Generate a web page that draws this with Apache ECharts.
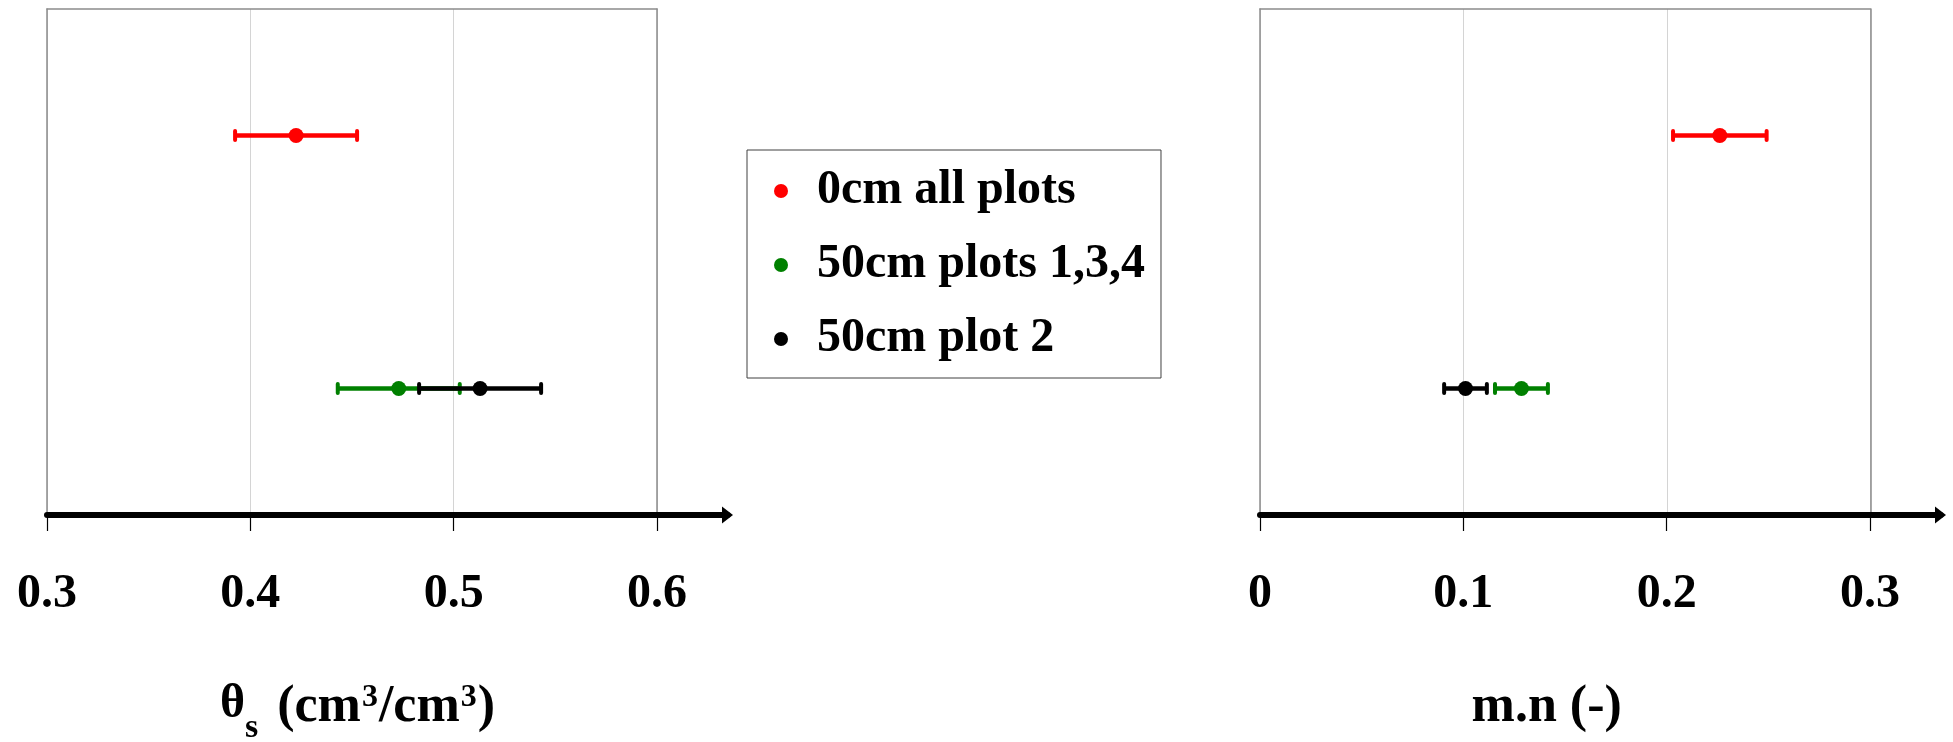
<!DOCTYPE html>
<html>
<head>
<meta charset="utf-8">
<script src="https://cdn.jsdelivr.net/npm/echarts@6/dist/echarts.min.js"></script>
<style>
html,body{margin:0;padding:0;background:#fff;}
#chart{width:1953px;height:742px;}
</style>
</head>
<body>
<div id="chart"></div>
<script>
// ---- data ----
const seriesNames = ['0cm all plots', '50cm plots 1,3,4', '50cm plot 2'];
const seriesColors = ['#ff0000', '#008000', '#000000'];
const rowPos = [3, 1, 1];                 // vertical row of each group (0..4 scale)
const thetaCenter = [0.4225, 0.473, 0.513];
const thetaErr = [0.030, 0.030, 0.030];
const mnCenter = [0.226, 0.1285, 0.101];
const mnErr = [0.023, 0.013, 0.0105];
const thetaTicks = [0.3, 0.4, 0.5, 0.6];
const mnTicks = [0, 0.1, 0.2, 0.3];

const FONT = '"Liberation Serif","Times New Roman",serif';

const chart = echarts.init(document.getElementById('chart'));

function errBarSeries(name, center, err, idx, xi, yi) {
  return {
    type: 'custom',
    name: name + ' error',
    xAxisIndex: xi, yAxisIndex: yi,
    z: 2,
    data: [[center[idx] - err[idx], center[idx] + err[idx], rowPos[idx]]],
    renderItem: function (params, api) {
      const lo = api.coord([api.value(0), api.value(2)]);
      const hi = api.coord([api.value(1), api.value(2)]);
      const c = seriesColors[idx];
      const h = 4.5;
      return {
        type: 'group',
        children: [
          {type: 'line', shape: {x1: lo[0], y1: lo[1], x2: hi[0], y2: hi[1]}, style: {stroke: c, lineWidth: 4.5}},
          {type: 'line', shape: {x1: lo[0], y1: lo[1] - h, x2: lo[0], y2: lo[1] + h}, style: {stroke: c, lineWidth: 4, lineCap: 'round'}},
          {type: 'line', shape: {x1: hi[0], y1: hi[1] - h, x2: hi[0], y2: hi[1] + h}, style: {stroke: c, lineWidth: 4, lineCap: 'round'}}
        ]
      };
    }
  };
}

function pointSeries(name, center, idx, xi, yi) {
  return {
    type: 'scatter',
    name: name,
    xAxisIndex: xi, yAxisIndex: yi,
    z: 5,
    symbol: 'circle',
    symbolSize: 15,
    itemStyle: {color: seriesColors[idx], opacity: 1},
    data: [[center[idx], rowPos[idx]]]
  };
}

const series = [];
[0, 1, 2].forEach(function (i) {
  series.push(errBarSeries(seriesNames[i], thetaCenter, thetaErr, i, 0, 0));
  series.push(errBarSeries(seriesNames[i], mnCenter, mnErr, i, 3, 3));
});
[0, 1, 2].forEach(function (i) {
  series.push(pointSeries(seriesNames[i], thetaCenter, i, 0, 0));
  series.push(pointSeries(seriesNames[i], mnCenter, i, 3, 3));
});

const borderColor = '#8c8c8c';
const gridColor = '#d4d4d4';

const titleRich = {
  t: {fontFamily: FONT, fontWeight: 'bold', fontSize: 52, lineHeight: 74, color: '#000'},
  q: {fontFamily: FONT, fontWeight: 'bold', fontSize: 48, lineHeight: 48, padding: [0, 0, 6, 0], color: '#000'},
  s: {fontFamily: FONT, fontWeight: 'bold', fontSize: 34, lineHeight: 34, padding: [40, 6, 0, 0], color: '#000'},
  p: {fontFamily: FONT, fontWeight: 'bold', fontSize: 32, lineHeight: 32, padding: [0, 1, 20, 1], color: '#000'}
};

function boxBottomAxis(grid, min, max, name, padding) {
  return {
    type: 'value', gridIndex: grid, position: 'bottom', min: min, max: max, interval: 0.1,
    axisLine: {show: false, onZero: false}, axisTick: {show: false}, axisLabel: {show: false},
    splitLine: {show: true, lineStyle: {color: gridColor, width: 1}},
    name: name, nameLocation: 'middle', nameGap: 156,
    nameTextStyle: {
      fontFamily: FONT, fontWeight: 'bold', fontSize: 52, color: '#000',
      padding: padding, rich: titleRich
    }
  };
}
function boxTopAxis(grid, min, max) {
  return {
    type: 'value', gridIndex: grid, position: 'top', min: min, max: max,
    axisLine: {show: true, onZero: false, lineStyle: {color: borderColor, width: 1.5}},
    axisTick: {show: false}, axisLabel: {show: false}, splitLine: {show: false}
  };
}
function arrowAxis(grid, min, max, ticks) {
  return {
    type: 'value', gridIndex: grid, position: 'bottom', min: min, max: max,
    axisLine: {show: true, onZero: false, symbol: ['none', 'triangle'], symbolSize: [17, 11],
      lineStyle: {color: '#000', width: 6}},
    axisTick: {show: true, customValues: ticks, length: 16, lineStyle: {color: '#000', width: 1.2}},
    axisLabel: {show: true, customValues: ticks, margin: 56, fontFamily: FONT, fontWeight: 'bold',
      fontSize: 48, color: '#000'},
    splitLine: {show: false}
  };
}
function borderY(grid, pos) {
  return {
    type: 'value', gridIndex: grid, position: pos, min: 0, max: 4,
    axisLine: {show: true, onZero: false, lineStyle: {color: borderColor, width: 1.5}},
    axisTick: {show: false}, axisLabel: {show: false}, splitLine: {show: false}
  };
}
function hiddenY(grid) {
  return {type: 'value', gridIndex: grid, min: 0, max: 4, show: false};
}

const option = {
  animation: false,
  backgroundColor: '#ffffff',
  grid: [
    {left: 47, top: 9, width: 610, height: 506, outerBoundsMode: 'none', containLabel: false},
    {left: 47, top: 9, width: 680.5, height: 506, outerBoundsMode: 'none', containLabel: false},
    {left: 1260, top: 9, width: 610.4, height: 506, outerBoundsMode: 'none', containLabel: false},
    {left: 1260, top: 9, width: 680.5, height: 506, outerBoundsMode: 'none', containLabel: false}
  ],
  xAxis: [
    boxBottomAxis(0, 0.3, 0.6, '{q|θ}{s|s}{t| (cm}{p|3}{t|/cm}{p|3}{t|)}', [0, 0, 0, 11]),
    boxTopAxis(0, 0.3, 0.6),
    arrowAxis(1, 0.3, 0.6347, thetaTicks),
    boxBottomAxis(2, 0, 0.3, '{t|m.n (-)}', [0, 37, 0, 0]),
    boxTopAxis(2, 0, 0.3),
    arrowAxis(3, 0, 0.3347, mnTicks)
  ],
  yAxis: [
    borderY(0, 'left'), borderY(0, 'right'), hiddenY(1),
    borderY(2, 'left'), borderY(2, 'right'), hiddenY(3)
  ],
  legend: {
    data: seriesNames,
    orient: 'vertical',
    left: 747, top: 150,
    padding: [17, 16, 15, 27],
    itemGap: 26,
    itemWidth: 14, itemHeight: 14,
    icon: 'circle',
    borderColor: '#404040', borderWidth: 1,
    textStyle: {fontFamily: FONT, fontWeight: 'bold', fontSize: 48, lineHeight: 48, color: '#000', padding: [0, 0, 0, 24]},
    selectedMode: false
  },
  series: series
};

chart.setOption(option);
</script>
</body>
</html>
